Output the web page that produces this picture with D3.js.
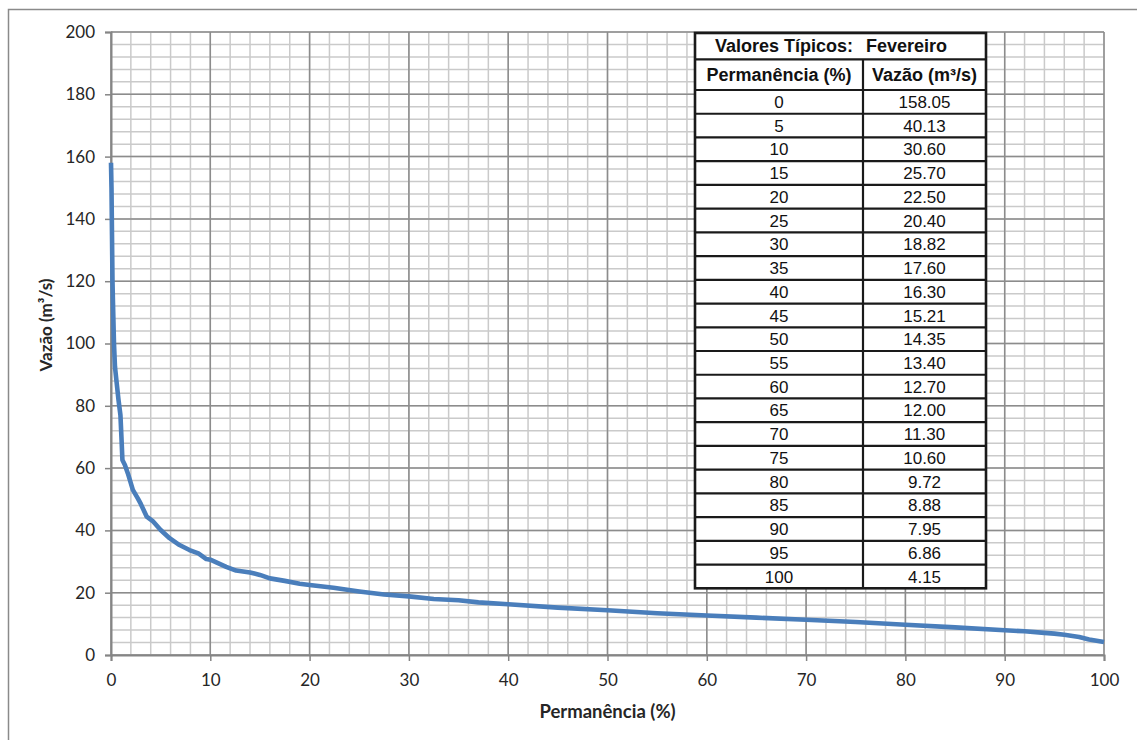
<!DOCTYPE html>
<html>
<head>
<meta charset="utf-8">
<script src="https://cdn.jsdelivr.net/npm/d3@7"></script>
<style>
  html, body { margin: 0; padding: 0; background: #fff; }
  svg { display: block; }
</style>
</head>
<body>
<svg id="chart" width="1137" height="740"></svg>
<script>
// Flow-duration curve for February: exceedance (%) vs discharge (m³/s)
const curvePct = [0, 0.05, 0.1, 0.15, 0.2, 0.3, 0.4, 0.55, 0.75, 0.95, 1.05, 1.15, 1.4, 1.7, 2.2, 2.7, 3.0, 3.6, 4.2, 5, 5.9, 6.9, 7.9, 8.8, 9.6, 10, 11.6, 12.6, 14, 15, 16, 17.5, 19, 20, 22.4, 25, 27.5, 30, 32.5, 35, 37, 40, 45, 50, 55, 60, 65, 70, 75, 80, 85, 90, 92, 94, 95, 96, 97.5, 98.5, 100];
const curveFlow = [158.05, 150, 135, 120, 113, 100, 92.5, 88, 82, 77, 70, 62.6, 61, 58.3, 53, 50.3, 48.5, 44.4, 43, 40.13, 37.5, 35.3, 33.7, 32.6, 30.8, 30.6, 28.3, 27.1, 26.5, 25.7, 24.6, 23.8, 22.9, 22.5, 21.6, 20.4, 19.4, 18.82, 18.0, 17.6, 16.9, 16.3, 15.21, 14.35, 13.4, 12.7, 12.0, 11.3, 10.6, 9.72, 8.88, 7.95, 7.6, 7.1, 6.86, 6.5, 5.8, 5.0, 4.15];

// Typical values table
const tablePct = [0, 5, 10, 15, 20, 25, 30, 35, 40, 45, 50, 55, 60, 65, 70, 75, 80, 85, 90, 95, 100];
const tableFlow = [158.05, 40.13, 30.60, 25.70, 22.50, 20.40, 18.82, 17.60, 16.30, 15.21, 14.35, 13.40, 12.70, 12.00, 11.30, 10.60, 9.72, 8.88, 7.95, 6.86, 4.15];

// Axis ticks
const xMajorTicks = d3.range(0, 101, 10);
const xMinorTicks = d3.range(0, 101, 2);
const yMajorTicks = d3.range(0, 201, 20);
const yMinorTicks = d3.range(0, 201, 4);

const svg = d3.select("#chart");
const axisFont = "Lato, 'Open Sans', sans-serif";
const tableFont = "'Liberation Sans', Arial, sans-serif";

// chart frame (left and top edges)
svg.append("path")
  .attr("d", "M8.5,740 V9.5 H1137")
  .attr("fill", "none")
  .attr("stroke", "#8a8a8a")
  .attr("stroke-width", 1.5);

const x = d3.scaleLinear().domain([0, 100]).range([111, 1104]);
const y = d3.scaleLinear().domain([0, 200]).range([655, 32]);

// grid: minor then major
const grid = svg.append("g");
grid.selectAll("line.xminor").data(xMinorTicks).join("line")
  .attr("x1", d => x(d)).attr("x2", d => x(d))
  .attr("y1", y(0)).attr("y2", y(200))
  .attr("stroke", "#cacaca").attr("stroke-width", 1.5);
grid.selectAll("line.yminor").data(yMinorTicks).join("line")
  .attr("x1", x(0)).attr("x2", x(100))
  .attr("y1", d => y(d)).attr("y2", d => y(d))
  .attr("stroke", "#cacaca").attr("stroke-width", 1.5);
grid.selectAll("line.xmajor").data(xMajorTicks).join("line")
  .attr("x1", d => x(d)).attr("x2", d => x(d))
  .attr("y1", y(0)).attr("y2", y(200))
  .attr("stroke", "#8c8c8c").attr("stroke-width", 1.5);
grid.selectAll("line.ymajor").data(yMajorTicks).join("line")
  .attr("x1", x(0)).attr("x2", x(100))
  .attr("y1", d => y(d)).attr("y2", d => y(d))
  .attr("stroke", "#8c8c8c").attr("stroke-width", 1.5);

// axes
const yAxis = svg.append("g")
  .attr("transform", `translate(${x(0)},0)`)
  .call(d3.axisLeft(y).tickValues(yMajorTicks).tickSize(6).tickPadding(10).tickFormat(d3.format("d")));
const xAxis = svg.append("g")
  .attr("transform", `translate(0,${y(0)})`)
  .call(d3.axisBottom(x).tickValues(xMajorTicks).tickSize(6).tickPadding(13).tickFormat(d3.format("d")));

[yAxis, xAxis].forEach(g => {
  g.select(".domain").attr("stroke", "#858585").attr("stroke-width", 2);
  g.selectAll(".tick line").attr("stroke", "#858585").attr("stroke-width", 1.5);
  g.selectAll(".tick text")
    .attr("font-family", axisFont)
    .attr("font-size", 17)
    .attr("fill", "#262626");
});

// axis titles
svg.append("text")
  .attr("x", (x(0) + x(100)) / 2)
  .attr("y", 718)
  .attr("text-anchor", "middle")
  .attr("font-family", axisFont)
  .attr("font-weight", "bold")
  .attr("font-size", 18.5)
  .attr("fill", "#262626")
  .text("Permanência (%)");

svg.append("text")
  .attr("transform", "translate(52,325) rotate(-90)")
  .attr("text-anchor", "middle")
  .attr("font-family", axisFont)
  .attr("font-weight", "bold")
  .attr("font-size", 17)
  .attr("fill", "#262626")
  .text("Vazão (m³/s)");

// duration curve
const line = d3.line()
  .x((d, i) => x(curvePct[i]))
  .y(d => y(d));

svg.append("path")
  .datum(curveFlow)
  .attr("d", line)
  .attr("fill", "none")
  .attr("stroke", "#4a7ebb")
  .attr("stroke-width", 4.6)
  .attr("stroke-linejoin", "round")
  .attr("stroke-linecap", "butt");

// typical values table
const tLeft = 695, tRight = 986, tMid = 863;
const tTop = 33, titleBottom = 59.3, headBottom = 90, tBottom = 588.3;
const rowH = (tBottom - headBottom) / tablePct.length;
const table = svg.append("g");

table.append("rect")
  .attr("x", tLeft).attr("y", tTop)
  .attr("width", tRight - tLeft).attr("height", tBottom - tTop)
  .attr("fill", "#fff");

const rowLines = [titleBottom, headBottom].concat(tablePct.slice(1).map((d, i) => headBottom + (i + 1) * rowH));
table.selectAll("line.row").data(rowLines).join("line")
  .attr("x1", tLeft).attr("x2", tRight)
  .attr("y1", d => d).attr("y2", d => d)
  .attr("stroke", "#1a1a1a").attr("stroke-width", 2.2);

table.append("line")
  .attr("x1", tMid).attr("x2", tMid)
  .attr("y1", titleBottom).attr("y2", tBottom)
  .attr("stroke", "#1a1a1a").attr("stroke-width", 2.2);

table.append("rect")
  .attr("x", tLeft).attr("y", tTop)
  .attr("width", tRight - tLeft).attr("height", tBottom - tTop)
  .attr("fill", "none")
  .attr("stroke", "#1a1a1a").attr("stroke-width", 2.6);

const boldText = (tx, ty, anchor, str) => table.append("text")
  .attr("x", tx).attr("y", ty)
  .attr("text-anchor", anchor)
  .attr("dy", "0.35em")
  .attr("font-family", tableFont)
  .attr("font-weight", "bold")
  .attr("font-size", 18)
  .attr("fill", "#111")
  .text(str);

boldText(853, (tTop + titleBottom) / 2, "end", "Valores Típicos:");
boldText(866, (tTop + titleBottom) / 2, "start", "Fevereiro");
boldText((tLeft + tMid) / 2, (titleBottom + headBottom) / 2, "middle", "Permanência (%)");
boldText((tMid + tRight) / 2, (titleBottom + headBottom) / 2, "middle", "Vazão (m³/s)");

const fmt = d3.format(".2f");
const rows = table.selectAll("g.trow").data(tablePct).join("g")
  .attr("transform", (d, i) => `translate(0,${headBottom + (i + 0.5) * rowH})`);
rows.append("text")
  .attr("x", (tLeft + tMid) / 2)
  .attr("dy", "0.36em")
  .attr("text-anchor", "middle")
  .attr("font-family", tableFont)
  .attr("font-size", 17)
  .attr("fill", "#111")
  .text(d => d);
rows.append("text")
  .attr("x", (tMid + tRight) / 2)
  .attr("dy", "0.36em")
  .attr("text-anchor", "middle")
  .attr("font-family", tableFont)
  .attr("font-size", 17)
  .attr("fill", "#111")
  .text((d, i) => fmt(tableFlow[i]));
</script>
</body>
</html>
